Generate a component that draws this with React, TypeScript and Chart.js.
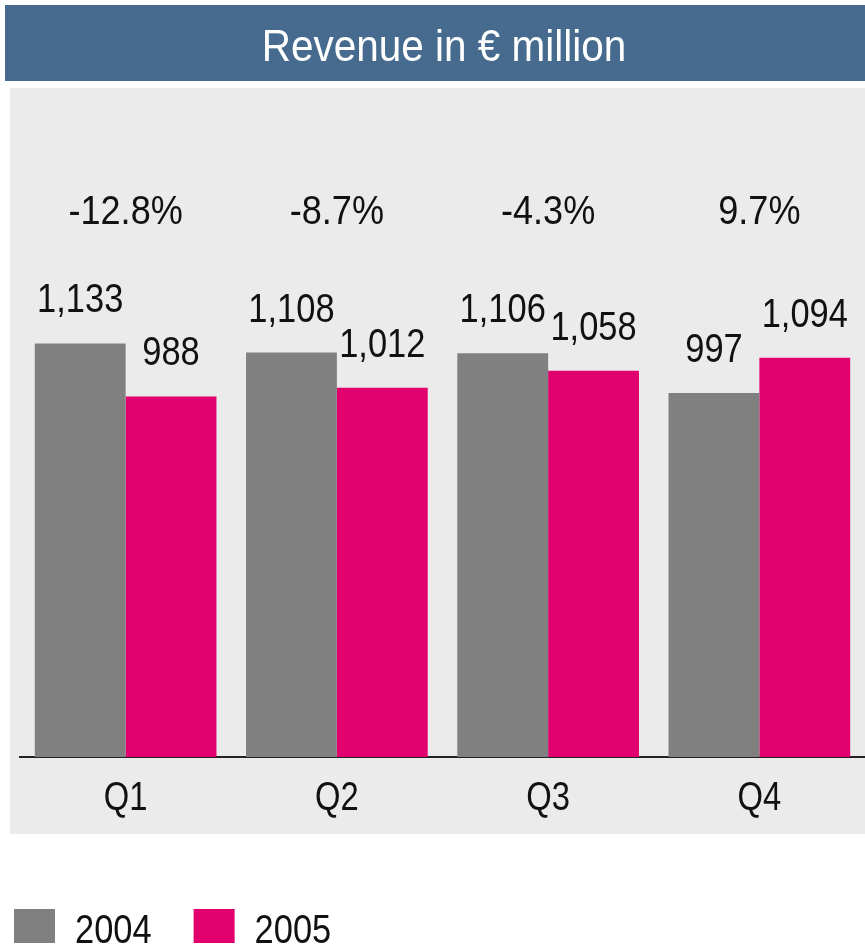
import { useEffect, useRef } from "react";
import { Chart, registerables } from "chart.js";

Chart.register(...registerables);

const TITLE = "Revenue in € million";
const CATEGORIES = ["Q1", "Q2", "Q3", "Q4"];
const SERIES_NAMES = ["2004", "2005"];
const SERIES_2004 = [1133, 1108, 1106, 997];
const SERIES_2005 = [988, 1012, 1058, 1094];
const CHANGE_LABELS = ["-12.8%", "-8.7%", "-4.3%", "9.7%"];
const Y_MAX = 1770;
const CHANGE_LABEL_LEVEL = 1460;

const COLORS = ["#808080", "#e2006f"];
const FONT = "'Liberation Sans', Arial, sans-serif";
const NARROW = 0.84;
const TEXT_COLOR = "#111111";

function narrowText(ctx: CanvasRenderingContext2D, text: string, x: number, y: number, align: CanvasTextAlign, sx = NARROW) {
  ctx.save();
  ctx.translate(x, y);
  ctx.scale(sx, 1);
  ctx.textAlign = align;
  ctx.fillText(text, 0, 0);
  ctx.restore();
}

const decorPlugin = {
  id: "decor",
  beforeDraw(chart: any) {
    const ctx = chart.ctx;
    ctx.save();
    ctx.fillStyle = "#ffffff";
    ctx.fillRect(0, 0, chart.width, chart.height);
    ctx.fillStyle = "#466b8e";
    ctx.fillRect(5, 5, chart.width - 5, 76);
    ctx.fillStyle = "#ebebeb";
    ctx.fillRect(10, 88, chart.width - 10, 746);
    ctx.fillStyle = "#ffffff";
    ctx.font = `44px ${FONT}`;
    ctx.textBaseline = "alphabetic";
    narrowText(ctx, TITLE, 444, 61, "center", 0.92);
    ctx.restore();
  },
  afterDraw(chart: any) {
    const ctx = chart.ctx;
    const x = chart.scales.x;
    const y = chart.scales.y;
    ctx.save();
    ctx.fillStyle = TEXT_COLOR;
    ctx.font = `41px ${FONT}`;
    ctx.textBaseline = "alphabetic";
    // value labels above bars
    chart.data.datasets.forEach((ds: any, di: number) => {
      const meta = chart.getDatasetMeta(di);
      meta.data.forEach((bar: any, i: number) => {
        const v = ds.data[i] as number;
        narrowText(ctx, v.toLocaleString("en-US"), bar.x, bar.y - 31, "center");
      });
    });
    // change labels
    CHANGE_LABELS.forEach((lab, i) => {
      narrowText(ctx, lab, x.getPixelForValue(i), y.getPixelForValue(CHANGE_LABEL_LEVEL), "center", 0.88);
    });
    // category labels
    (chart.data.labels as string[]).forEach((lab, i) => {
      narrowText(ctx, lab, x.getPixelForValue(i), x.bottom + 53, "center", 0.8);
    });
    // legend
    let lx = 14;
    chart.data.datasets.forEach((ds: any) => {
      ctx.fillStyle = ds.backgroundColor;
      ctx.fillRect(lx, 909, 41, 34);
      ctx.fillStyle = TEXT_COLOR;
      narrowText(ctx, ds.label, lx + 61, 943, "left");
      lx += 61 + ctx.measureText(ds.label).width * NARROW + 42;
    });
    ctx.restore();
  },
};

export default function App() {
  const ref = useRef<HTMLCanvasElement>(null);
  useEffect(() => {
    if (!ref.current) return;
    const chart = new Chart(ref.current, {
      type: "bar",
      data: {
        labels: CATEGORIES,
        datasets: [
          { label: SERIES_NAMES[0], data: SERIES_2004, backgroundColor: COLORS[0] },
          { label: SERIES_NAMES[1], data: SERIES_2005, backgroundColor: COLORS[1] },
        ],
      },
      options: {
        responsive: false,
        animation: false,
        devicePixelRatio: 1,
        layout: { padding: { left: 20, right: 0, top: 111, bottom: 188 } },
        plugins: {
          legend: { display: false },
          title: { display: false },
          tooltip: { enabled: false },
        },
        datasets: { bar: { categoryPercentage: 0.86, barPercentage: 1.0 } },
        scales: {
          x: {
            grid: { display: false, drawTicks: false },
            border: { display: true, color: "#222222", width: 2 },
            ticks: { display: false },
          },
          y: { display: false, min: 0, max: Y_MAX },
        },
      },
      plugins: [decorPlugin],
    });
    return () => chart.destroy();
  }, []);
  return (
    <div style={{ position: "absolute", left: 0, top: 0, width: 865, height: 945 }}>
      <canvas ref={ref} width={865} height={945} />
    </div>
  );
}
